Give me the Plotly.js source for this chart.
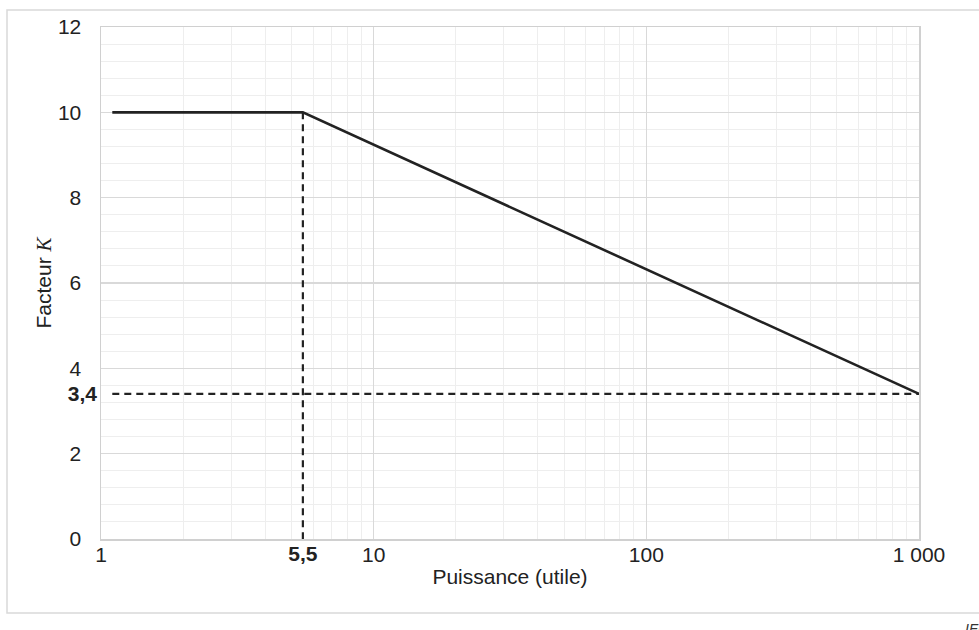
<!DOCTYPE html>
<html>
<head>
<meta charset="utf-8">
<script src="https://cdn.plot.ly/plotly-3.0.1.min.js"></script>
<style>html,body{margin:0;padding:0;background:#fff;}#chart{width:979px;height:630px;}</style>
</head>
<body>
<div id="chart"></div>
<script>
// Data
var power = [1.1, 5.5, 1000];          // Puissance (utile)
var kFactor = [10, 10, 3.4];           // Facteur K
var breakPower = 5.5;                  // vertical reference
var endK = 3.4;                        // horizontal reference
var xTickVals = [1, 10, 100, 1000];
var xTickText = ['1', '10', '100', '1 000'];
var xRefTickVals = [5.5];
var xRefTickText = ['<b>5,5</b>'];
var xMinorVals = [2,3,4,5,6,7,8,9,20,30,40,50,60,70,80,90,200,300,400,500,600,700,800,900];
var yTickVals = [0, 2, 4, 6, 8, 10, 12];
var yTickText = ['0', '2', '4', '6', '8', '10', '12'];
var yRefTickVals = [3.4];
var yRefTickText = ['<b>3,4</b>'];

var ink = '#222222';
var traces = [
  {x: [breakPower, breakPower], y: [kFactor[1], 0], mode: 'lines',
   line: {color: ink, width: 2.2, dash: '7px,5px'}, hoverinfo: 'skip'},
  {x: [power[0], power[power.length-1]], y: [endK, endK], mode: 'lines',
   line: {color: ink, width: 2.2, dash: '7px,5px'}, hoverinfo: 'skip'},
  {x: power, y: kFactor, mode: 'lines', line: {color: ink, width: 2.6}},
  // invisible anchor trace for the bold reference-value axes
  {x: [breakPower], y: [endK], xaxis: 'x2', yaxis: 'y2', mode: 'markers',
   marker: {opacity: 0, size: 1}, hoverinfo: 'skip'}
];

var font = {family: 'Liberation Sans, Arial, sans-serif', size: 21, color: '#222'};
var layout = {
  width: 979, height: 630,
  margin: {l: 101, r: 60, t: 27, b: 91, autoexpand: false},
  paper_bgcolor: '#fff', plot_bgcolor: '#fff',
  showlegend: false,
  font: font,
  xaxis: {
    type: 'log', range: [0, 3], tickmode: 'array', tickvals: xTickVals, ticktext: xTickText,
    showgrid: true, gridcolor: '#d9d9d9', gridwidth: 1.2,
    minor: {tickmode: 'array', tickvals: xMinorVals, showgrid: true, gridcolor: '#eeeeee', gridwidth: 1, ticks: '', ticklen: 0},
    showline: true, linecolor: '#d0d0d0', linewidth: 1.5, mirror: true,
    ticks: '', ticklen: 0, ticklabelstandoff: -4, zeroline: false,
    title: {text: 'Puissance (utile)', font: font, standoff: 4},
    automargin: false
  },
  xaxis2: {
    type: 'log', range: [0, 3], overlaying: 'x', anchor: 'y2', side: 'bottom',
    tickmode: 'array', tickvals: xRefTickVals, ticktext: xRefTickText,
    showgrid: false, showline: false, ticks: '', ticklen: 0, ticklabelstandoff: 0, zeroline: false,
    automargin: false
  },
  yaxis: {
    range: [0, 12], tickmode: 'array', tickvals: yTickVals, ticktext: yTickText,
    showgrid: true, gridcolor: '#d9d9d9', gridwidth: 1.2,
    minor: {dtick: 0.4, tick0: 0, showgrid: true, gridcolor: '#eeeeee', gridwidth: 1, ticks: ''},
    showline: true, linecolor: '#d0d0d0', linewidth: 1.5, mirror: true,
    ticks: '', ticklabelstandoff: 14, zeroline: false,
    title: {text: 'Facteur <span style="font-family:Liberation Serif, serif"><i>K</i></span>', font: font, standoff: 0},
    automargin: false
  },
  yaxis2: {
    range: [0, 12], overlaying: 'y', anchor: 'x2', side: 'left',
    tickmode: 'array', tickvals: yRefTickVals, ticktext: yRefTickText,
    showgrid: false, showline: false, ticks: '', ticklabelstandoff: 3, zeroline: false,
    automargin: false
  },
  shapes: [
    {type: 'rect', xref: 'paper', yref: 'paper', layer: 'below',
     x0: -94/818, x1: 1.2, y0: (630-91-613)/512, y1: (630-91-10)/512,
     line: {color: '#d9d9d9', width: 1.5}}
  ],
  annotations: [
    {xref: 'paper', yref: 'paper', x: 862/818, y: (630-91-619)/512, xanchor: 'left', yanchor: 'top',
     text: '<i>IEC</i>', showarrow: false, font: {family: 'Liberation Sans, Arial, sans-serif', size: 14, color: '#333'}}
  ]
};
Plotly.newPlot('chart', traces, layout, {staticPlot: true, displayModeBar: false});
</script>
</body>
</html>
